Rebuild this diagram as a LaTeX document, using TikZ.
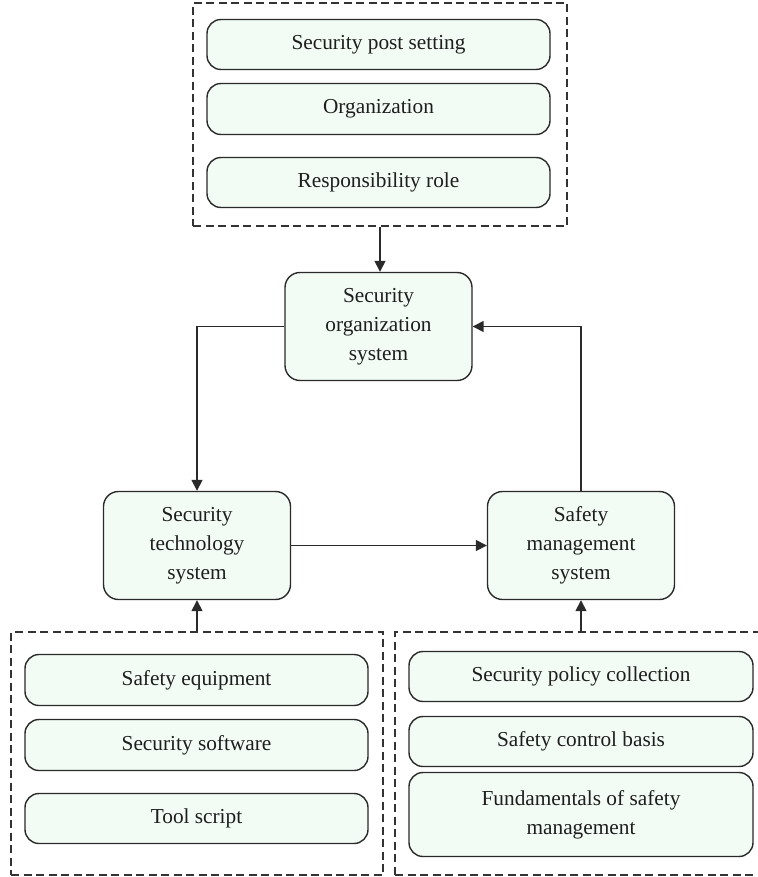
\documentclass[tikz,border=0pt]{standalone}
\usepackage{fontspec}
\setmainfont{Liberation Serif}
\usetikzlibrary{arrows.meta}
\definecolor{boxfill}{HTML}{F2FBF4}
\definecolor{boxline}{HTML}{2A2A2A}
\definecolor{grpline}{HTML}{333333}
\definecolor{txt}{HTML}{1E1E1E}
\begin{document}
\begin{tikzpicture}[x=1pt,y=-1pt,
  every node/.style={font=\fontsize{21.3pt}{29pt}\selectfont, text=txt},
  item/.style={draw=boxline, line width=1.4pt, fill=boxfill, rounded corners=14pt,
    minimum width=#1, inner sep=0pt, align=center},
  item/.default=343pt,
  sysbox/.style={draw=boxline, line width=1.4pt, fill=boxfill, rounded corners=15pt,
    minimum width=187pt, minimum height=108pt, inner sep=0pt, align=center},
  group/.style={draw=grpline, line width=1.3pt, dash pattern=on 8pt off 4.5pt,
    inner sep=0pt},
  link/.style={draw=boxline, line width=1.5pt, -{Triangle[length=11pt,width=11pt]}}]

\useasboundingbox (0,0) rectangle (757,877);

% dashed groups
\node[group, minimum width=374pt, minimum height=223pt] (topgrp) at (380,114.5) {};
\node[group, minimum width=372pt, minimum height=243pt] (leftgrp) at (197,753.5) {};
\node[group, minimum width=380pt, minimum height=243pt] (rightgrp) at (585,753.5) {};

% top group items
\node[item, minimum height=50pt] (post) at (378.5,44.5) {Security post setting};
\node[item, minimum height=51pt] (orgn) at (378.5,109) {Organization};
\node[item, minimum height=50pt] (resp) at (378.5,182.5) {Responsibility role};

% three systems
\node[sysbox] (org) at (378.5,326.5) {Security\\organization\\system};
\node[sysbox] (tech) at (197,545.5) {Security\\technology\\system};
\node[sysbox] (mgmt) at (581,545.5) {Safety\\management\\system};

% left group items
\node[item, minimum height=51pt] (equip) at (196.5,680) {Safety equipment};
\node[item, minimum height=51pt] (soft) at (196.5,745) {Security software};
\node[item, minimum height=50pt] (tool) at (196.5,818.5) {Tool script};

% right group items
\node[item=344pt, minimum height=50pt] (policy) at (581,676.5) {Security policy collection};
\node[item=344pt, minimum height=50pt] (control) at (581,741.5) {Safety control basis};
\node[item=344pt, minimum height=84pt] (fund) at (581,814.5) {Fundamentals of safety\\management};

% connectors
\draw[link] (topgrp.south) -- (topgrp.south |- org.north);
\draw[link] (org.west) -| (tech.north);
\draw[link] (tech.east) -- (mgmt.west);
\draw[link] (mgmt.north) |- (org.east);
\draw[link] (leftgrp.north) -- (tech.south);
\draw[link] (mgmt.south |- rightgrp.north) -- (mgmt.south);
\end{tikzpicture}
\end{document}
